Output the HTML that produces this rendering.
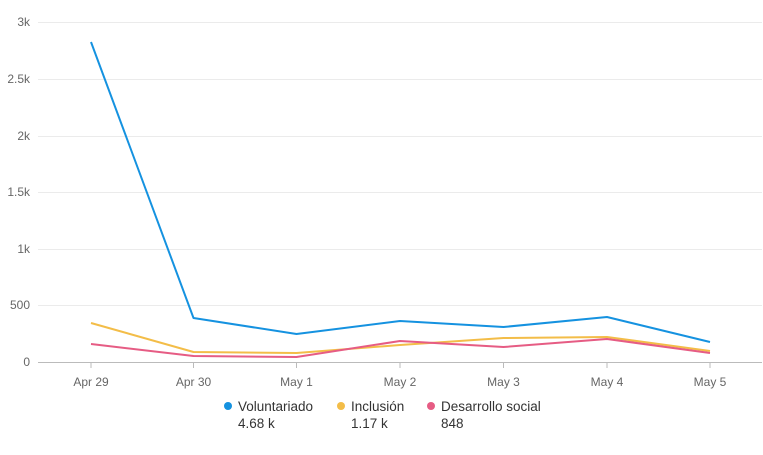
<!DOCTYPE html>
<html><head><meta charset="utf-8"><style>
html,body{margin:0;padding:0;background:#fff;}
svg text{font-family:"Liberation Sans",Arial,sans-serif;}
</style></head><body>
<svg width="763" height="450" xmlns="http://www.w3.org/2000/svg">
<g stroke="#ebebeb" stroke-width="1">
<line x1="38" x2="762" y1="22.5" y2="22.5"/>
<line x1="38" x2="762" y1="79.5" y2="79.5"/>
<line x1="38" x2="762" y1="136.5" y2="136.5"/>
<line x1="38" x2="762" y1="192.5" y2="192.5"/>
<line x1="38" x2="762" y1="249.5" y2="249.5"/>
<line x1="38" x2="762" y1="305.5" y2="305.5"/>
</g>
<line x1="38" x2="762" y1="362.5" y2="362.5" stroke="#bbb"/>
<g stroke="#bbb">
<line x1="91" x2="91" y1="362" y2="368"/><line x1="193.5" x2="193.5" y1="362" y2="368"/>
<line x1="296.5" x2="296.5" y1="362" y2="368"/><line x1="400" x2="400" y1="362" y2="368"/>
<line x1="503.5" x2="503.5" y1="362" y2="368"/><line x1="607" x2="607" y1="362" y2="368"/>
<line x1="710" x2="710" y1="362" y2="368"/>
</g>
<g font-size="12" fill="#666" text-anchor="end">
<text x="30" y="26">3k</text><text x="30" y="83">2.5k</text><text x="30" y="140">2k</text>
<text x="30" y="196">1.5k</text><text x="30" y="253">1k</text><text x="30" y="309">500</text>
<text x="30" y="366">0</text>
</g>
<g font-size="12" fill="#666" text-anchor="middle">
<text x="91" y="386">Apr 29</text><text x="193.5" y="386">Apr 30</text><text x="296.5" y="386">May 1</text>
<text x="400" y="386">May 2</text><text x="503.5" y="386">May 3</text><text x="607" y="386">May 4</text>
<text x="710" y="386">May 5</text>
</g>
<g fill="none" stroke-width="2" stroke-linejoin="round">
<polyline stroke="#f3bd48" points="91,323 193.5,352 296.5,353 400,345 503.5,338 607,337 710,351"/>
<polyline stroke="#e65c84" points="91,344 193.5,356 296.5,357 400,341 503.5,347 607,339 710,353"/>
<polyline stroke="#1592e0" points="91,42 193.5,318 296.5,334 400,321 503.5,327 607,317 710,342"/>
</g>
<g font-size="13.5" fill="#333">
<circle cx="228" cy="406" r="4" fill="#1592e0"/><text x="238" y="411">Voluntariado</text><text x="238" y="428">4.68 k</text>
<circle cx="341" cy="406" r="4" fill="#f3bd48"/><text x="351" y="411">Inclusión</text><text x="351" y="428">1.17 k</text>
<circle cx="431" cy="406" r="4" fill="#e65c84"/><text x="441" y="411">Desarrollo social</text><text x="441" y="428">848</text>
</g>
</svg>
</body></html>
